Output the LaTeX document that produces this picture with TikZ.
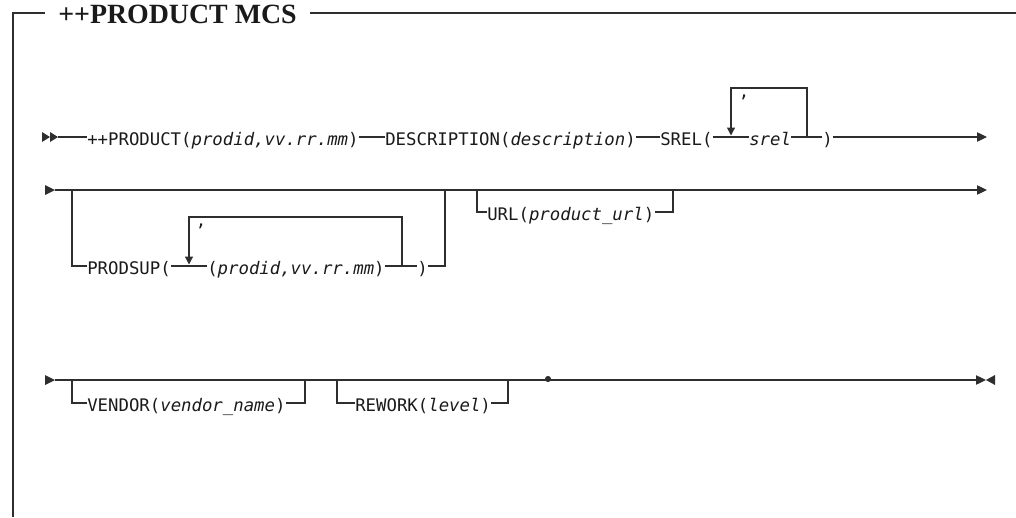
\documentclass[tikz,border=0pt]{standalone}
\usepackage{fontspec}
\usetikzlibrary{arrows.meta}
\newfontfamily\synfont[ItalicFont={* Oblique}]{DejaVu Sans Mono}
\newfontfamily\ttlfont{Liberation Serif}
\newcommand\vx[1]{\textit{#1}}
\definecolor{ink}{HTML}{1A1A1A}
\definecolor{rule}{HTML}{2E2E2E}
\tikzset{
  syn/.style={font={\synfont\fontsize{13pt}{15pt}\selectfont}, text=ink, inner sep=0pt,
    anchor=west, text height=12pt, text depth=0pt},
  sepchar/.style={font={\synfont\fontsize{13pt}{15pt}\selectfont}, text=ink, inner sep=0pt, anchor=base},
  ttl/.style={font={\ttlfont\bfseries\fontsize{20.9pt}{24pt}\selectfont}, text=ink,
    inner xsep=10.1pt, inner ysep=0pt, text height=16.5pt, text depth=0pt},
  wire/.style={draw=rule, line width=0.9pt},
  framewire/.style={draw=rule, line width=1.1pt},
  endarrow/.style={wire, -{Triangle[length=7.5pt,width=7pt]}},
  looparrow/.style={wire, -{Triangle[length=6pt,width=6pt]}},
}
\begin{document}
\begin{tikzpicture}[x=0.75pt, y=-0.75pt]
\useasboundingbox (0,0) rectangle (1016,517);

% frame and title
\coordinate (ftl) at (13,13);
\coordinate (fbl) at (13,517);
\coordinate (ftr) at (1016,13);
\node[ttl] (title) at (177.5,13) {++PRODUCT MCS};
\draw[framewire] (fbl) -- (ftl) -- (title.west);
\draw[framewire] (title.east) -- (ftr);

% ---------------- row 1
\fill[rule] (42,132) -- (50,137) -- (42,142) -- cycle;
\fill[rule] (50,132) -- (58,137) -- (50,142) -- cycle;
\coordinate (r1s) at (58,137);
\node[syn] (prod) at (87,137) {++PRODUCT(\vx{prodid,vv.rr.mm})};
\node[syn] (desc) at (385,137) {DESCRIPTION(\vx{description})};
\node[syn] (srelo) at (660,137) {SREL(};
\node[syn] (srel) at (749,137) {\vx{srel}};
\node[syn] (srelc) at (822,137) {)};
\coordinate (r1e) at (987,137);
\draw[wire] (r1s) -- (prod.west) (prod.east) -- (desc.west) (desc.east) -- (srelo.west)
  (srelo.east) -- (srel.west) (srel.east) -- (srelc.west);
\draw[endarrow] (srelc.east) -- (r1e);
\coordinate (l1a) at (731,135.5);
\coordinate (l1b) at (807,137);
\coordinate (l1t) at (731,88);
\draw[looparrow] (l1b) |- (l1t) -- (l1a);
\node[sepchar] (c1) at (744,97) {,};

% ---------------- row 2
\fill[rule] (45,185) -- (55,190) -- (45,195) -- cycle;
\coordinate (r2s) at (55,190);
\coordinate (r2e) at (987,190);
\draw[endarrow] (r2s) -- (r2e);
% PRODSUP branch
\coordinate (b2a) at (72,190);
\coordinate (b2b) at (445,190);
\node[syn] (prodsup) at (87,266) {PRODSUP(};
\node[syn] (pid) at (207,266) {(\vx{prodid,vv.rr.mm})};
\node[syn] (psc) at (417,266) {)};
\draw[wire] (b2a) |- (prodsup.west) (prodsup.east) -- (pid.west) (pid.east) -- (psc.west);
\draw[wire] (psc.east) -| (b2b);
\coordinate (l2a) at (189,264.5);
\coordinate (l2b) at (402,266);
\coordinate (l2t) at (189,217);
\draw[looparrow] (l2b) |- (l2t) -- (l2a);
\node[sepchar] (c2) at (201,226) {,};
% URL branch
\coordinate (b3a) at (477,190);
\coordinate (b3b) at (673,190);
\node[syn] (url) at (487,212) {URL(\vx{product\_url})};
\draw[wire] (b3a) |- (url.west) (url.east) -| (b3b);

% ---------------- row 3
\fill[rule] (45,375) -- (55,380) -- (45,385) -- cycle;
\coordinate (r3s) at (55,380);
\coordinate (r3e) at (986,380);
\draw[endarrow] (r3s) -- (r3e);
\fill[rule] (995,375) -- (986,380) -- (995,385) -- cycle;
\coordinate (dot) at (548,379);
\fill[rule] (dot) circle (2.3pt);
% VENDOR branch
\coordinate (b4a) at (72,380);
\coordinate (b4b) at (305,380);
\node[syn] (vendor) at (87,403) {VENDOR(\vx{vendor\_name})};
\draw[wire] (b4a) |- (vendor.west) (vendor.east) -| (b4b);
% REWORK branch
\coordinate (b5a) at (337,380);
\coordinate (b5b) at (508,380);
\node[syn] (rework) at (355,403) {REWORK(\vx{level})};
\draw[wire] (b5a) |- (rework.west) (rework.east) -| (b5b);
\end{tikzpicture}
\end{document}
